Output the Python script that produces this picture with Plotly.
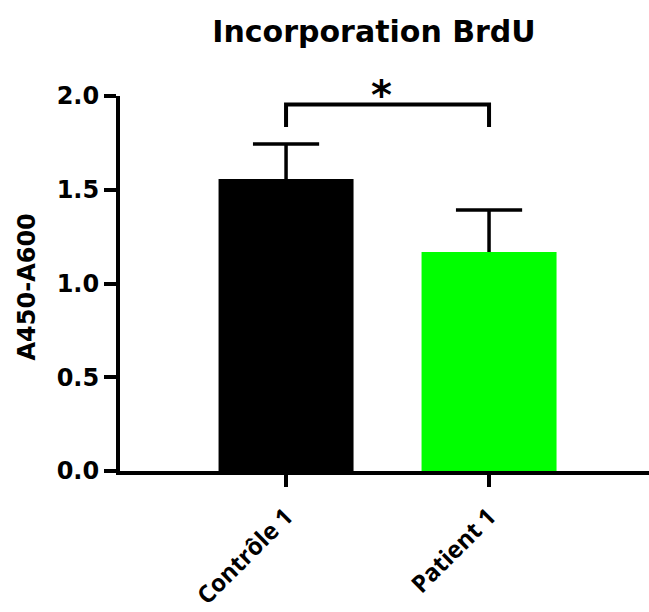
import plotly.graph_objects as go

# ---- data ----
categories = ["Contrôle 1", "Patient 1"]
means = [1.557, 1.168]
errors = [0.187, 0.224]
bar_colors = ["#000000", "#00FF00"]
y_ticks = [0.0, 0.5, 1.0, 1.5, 2.0]
y_tick_labels = ["0.0", "0.5", "1.0", "1.5", "2.0"]
sig_pair = [0, 1]
sig_top = 1.955
sig_drop = 0.12
sig_label = "*"
title_text = "Incorporation BrdU"
y_title = "A450-A600"

xpos = list(range(len(categories)))
cap = 0.163

fig = go.Figure()
fig.add_trace(go.Bar(
    x=xpos, y=means, width=0.665,
    marker=dict(color=bar_colors, line=dict(width=0)),
    showlegend=False, hoverinfo="skip",
))

# error bars (upper only)
ex, ey = [], []
for i, (m, e) in enumerate(zip(means, errors)):
    ex += [i - cap, i + cap, None, i, i, None]
    ey += [m + e, m + e, None, m, m + e, None]
fig.add_trace(go.Scatter(
    x=ex, y=ey, mode="lines", line=dict(color="black", width=3.5),
    showlegend=False, hoverinfo="skip", cliponaxis=False,
))

# significance bracket
a, b = sig_pair
fig.add_trace(go.Scatter(
    x=[a, a, b, b], y=[sig_top - sig_drop, sig_top, sig_top, sig_top - sig_drop],
    mode="lines", line=dict(color="black", width=4),
    showlegend=False, hoverinfo="skip", cliponaxis=False,
))
fig.add_annotation(
    x=(a + b) / 2 - 0.03, y=2.0, xref="x", yref="y", text=sig_label,
    showarrow=False, yanchor="bottom", yshift=-24,
    font=dict(family="DejaVu Sans", size=40, color="black", weight="bold"),
)

# y-axis title
fig.add_annotation(
    xref="paper", yref="paper",
    x=(26 - 120) / 529, y=1 - ((96 + 471) / 2 + 4 - 96) / 375,
    xanchor="center", yanchor="middle",
    text=y_title, showarrow=False, textangle=-90,
    font=dict(family="DejaVu Sans", size=24, color="black", weight="bold"),
)

fig.update_layout(
    width=649, height=612,
    margin=dict(l=120, r=0, t=96, b=141, autoexpand=False),
    paper_bgcolor="white", plot_bgcolor="white",
    title=dict(text=title_text, x=374 / 649, xanchor="center", xref="container",
               y=1 - 31 / 612, yref="container", yanchor="middle",
               font=dict(family="DejaVu Sans", size=30, color="black", weight="bold")),
    xaxis=dict(range=[-0.818, 1.788], tickvals=xpos, ticktext=categories,
               tickangle=-45, showline=True, linewidth=4, linecolor="black",
               ticks="outside", ticklen=12, tickwidth=4, tickcolor="black",
               ticklabelstandoff=6, automargin=False,
               showgrid=False, zeroline=False,
               tickfont=dict(family="Open Sans", size=24, color="black", weight="bold")),
    yaxis=dict(range=[0, 2], tickvals=y_ticks, ticktext=y_tick_labels,
               showline=True, linewidth=4, linecolor="black",
               ticks="outside", ticklen=12, tickwidth=4, tickcolor="black",
               automargin=False,
               showgrid=False, zeroline=False,
               tickfont=dict(family="DejaVu Sans", size=24, color="black", weight="bold")),
)

fig.write_html("out.html")
